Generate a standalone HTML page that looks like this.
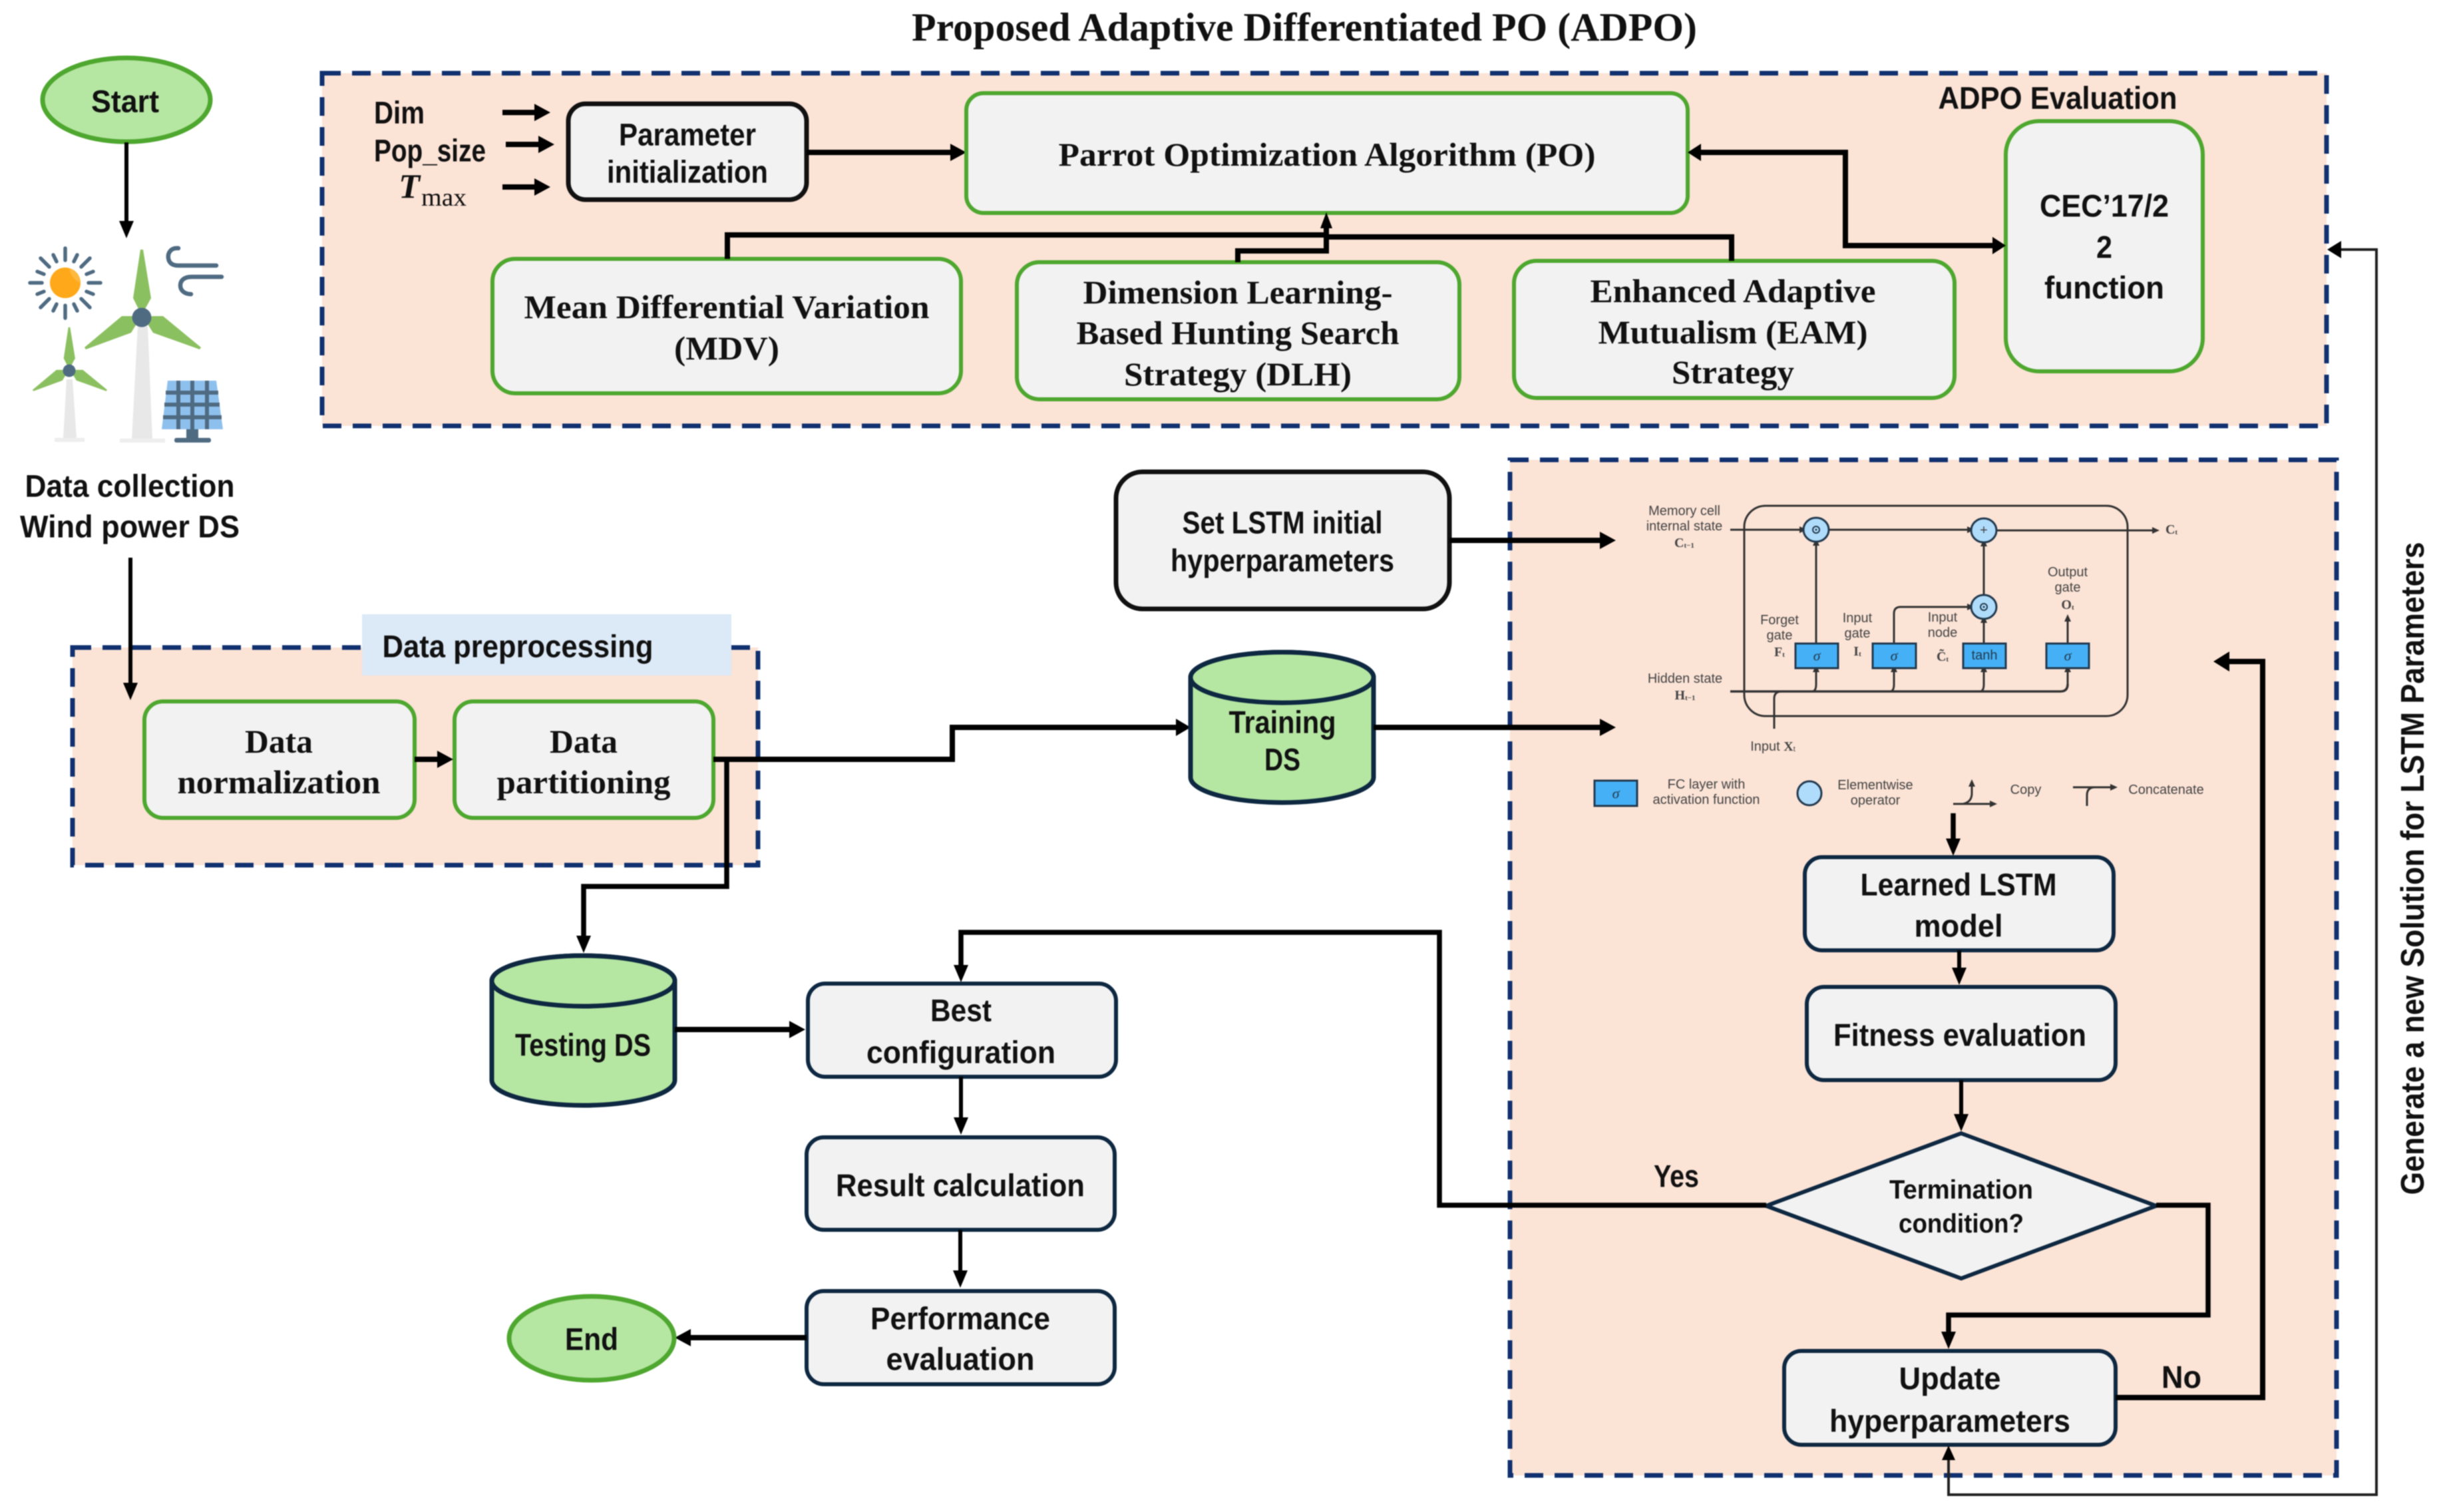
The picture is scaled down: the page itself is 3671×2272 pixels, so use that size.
<!DOCTYPE html>
<html><head><meta charset="utf-8">
<style>
html,body{margin:0;padding:0;background:#fff;width:3671px;height:2272px;overflow:hidden}
svg{display:block;filter:blur(.7px)}
text{text-anchor:middle;dominant-baseline:central;fill:#111}
.s{font:bold 47px "Liberation Sans",sans-serif}
.r{font:bold 50px "Liberation Serif",serif}
.t{font:20px "Liberation Sans",sans-serif;fill:#444}
.m{font:bold 20px "Liberation Serif",serif;fill:#444}
.dash{fill:#fbe3d6;stroke:#10306f;stroke-width:7;stroke-dasharray:28 17}
.g{fill:#f2f2f2;stroke:#4ea72e;stroke-width:6}
.n{fill:#f2f2f2;stroke:#0e2841;stroke-width:6}
.k{fill:#f2f2f2;stroke:#111;stroke-width:7}
.gf{fill:#b5e6a2;stroke:#4ea72e;stroke-width:7}
.cyl{fill:#b5e6a2;stroke:#0e2841;stroke-width:7}
.a{fill:none;stroke:#000;stroke-width:8;marker-end:url(#h)}
.a5{fill:none;stroke:#000;stroke-width:6;marker-end:url(#h2)}
.a7{fill:none;stroke:#000;stroke-width:7.5;marker-end:url(#h2)}
.l{fill:none;stroke:#333;stroke-width:3;marker-end:url(#h4)}
.ray{stroke:#4f6b82;stroke-width:5.5;stroke-linecap:round}
.lb{fill:#45b0f5;stroke:#22394d;stroke-width:3}
.lc{fill:#b0dcfb;stroke:#22394d;stroke-width:3}
</style></head><body>
<svg xmlns="http://www.w3.org/2000/svg" width="3671" height="2272" viewBox="0 0 3671 2272">
<defs>
<marker id="h" markerUnits="userSpaceOnUse" markerWidth="30" markerHeight="30" refX="6" refY="15" orient="auto"><path d="M0,2 L24,15 L0,28Z"/></marker>
<marker id="h2" markerUnits="userSpaceOnUse" markerWidth="30" markerHeight="30" refX="6" refY="13" orient="auto"><path d="M0,2 L26,13 L0,24Z"/></marker>
<marker id="h4" markerUnits="userSpaceOnUse" markerWidth="16" markerHeight="16" refX="2" refY="6" orient="auto"><path d="M0,1 L11,6 L0,11Z" fill="#333"/></marker>
</defs>

<!-- title -->
<text class="r" x="1960" y="41" textLength="1180" lengthAdjust="spacingAndGlyphs" style="font-size:60px">Proposed Adaptive Differentiated PO (ADPO)</text>

<!-- regions -->
<rect class="dash" x="484" y="110" width="3012" height="530"/>
<rect class="dash" x="109" y="973" width="1030" height="327"/>
<rect class="dash" x="2269" y="691" width="1242" height="1526"/>
<rect x="544" y="923" width="555" height="92" fill="#dce9f6"/>
<text class="s" x="778" y="971" textLength="407" lengthAdjust="spacingAndGlyphs">Data preprocessing</text>
<text class="s" x="3092" y="147" textLength="359" lengthAdjust="spacingAndGlyphs">ADPO Evaluation</text>

<!-- start -->
<ellipse class="gf" cx="190" cy="150" rx="126" ry="63"/>
<text class="s" x="188" y="152" textLength="102" lengthAdjust="spacingAndGlyphs">Start</text>
<path class="a5" d="M190,214 V338"/>

<!-- icons -->
<g>
<circle cx="98" cy="425" r="23" fill="#ffa91a"/>
<path d="M104,403 A23,23 0 0 1 120,425 A30,30 0 0 1 104,403Z" fill="#ffb93f"/>
<g class="ray">
<line x1="98" y1="373" x2="98" y2="391"/><line x1="98" y1="459" x2="98" y2="478"/>
<line x1="45" y1="425" x2="63" y2="425"/><line x1="133" y1="425" x2="151" y2="425"/>
<line x1="61" y1="388" x2="74" y2="401"/><line x1="135" y1="388" x2="122" y2="401"/>
<line x1="61" y1="462" x2="74" y2="449"/><line x1="135" y1="462" x2="122" y2="449"/>
<line x1="80" y1="383" x2="85" y2="393"/><line x1="116" y1="383" x2="111" y2="393"/>
<line x1="80" y1="467" x2="85" y2="457"/><line x1="116" y1="467" x2="111" y2="457"/>
<line x1="56" y1="408" x2="66" y2="412"/><line x1="140" y1="408" x2="130" y2="412"/>
<line x1="56" y1="442" x2="66" y2="438"/><line x1="140" y1="442" x2="130" y2="438"/>
</g>
<path d="M268,373 C255,372 252,382 253,388 C254,396 260,399 268,399 H325" fill="none" stroke="#4f6b82" stroke-width="6.5" stroke-linecap="round"/>
<path d="M333,416 H288 C276,416 271,422 271,429 C271,437 278,442 287,442" fill="none" stroke="#4f6b82" stroke-width="6.5" stroke-linecap="round"/>
<polygon points="207,490 222,490 229,660 198,660" fill="#e8e8e8"/>
<rect x="180" y="659" width="68" height="6" fill="#eeeeee"/>
<g fill="#8bc060">
<path d="M211,375 L215,375 L227,448 L216,468 L210,468 L200,448Z"/>
<path d="M183,475 L127,522 L129,525 L197,500 L205,487 L200,475Z"/>
<path d="M245,475 L302,522 L300,525 L230,500 L222,487 L228,475Z"/>
</g>
<circle cx="213" cy="477" r="14.5" fill="#4f6b82"/>
<polygon points="100,570 109,570 115,658 95,658" fill="#e8e8e8"/>
<rect x="82" y="658" width="45" height="6" fill="#eeeeee"/>
<g transform="translate(104,557) scale(.64) translate(-213,-477)" fill="#8bc060">
<path d="M211,375 L215,375 L227,448 L216,468 L210,468 L200,448Z"/>
<path d="M183,475 L127,522 L129,525 L197,500 L205,487 L200,475Z"/>
<path d="M245,475 L302,522 L300,525 L230,500 L222,487 L228,475Z"/>
</g>
<circle cx="104" cy="557" r="9.5" fill="#4f6b82"/>
<polygon points="252,572 325,572 335,645 243,645" fill="#8ec0ee"/>
<g stroke="#4f6b82" stroke-width="6" fill="none">
<line x1="249" y1="590" x2="328" y2="590"/><line x1="247" y1="608" x2="330" y2="608"/><line x1="245" y1="627" x2="333" y2="627"/>
<line x1="268" y1="572" x2="268" y2="645"/><line x1="289" y1="572" x2="289" y2="645"/><line x1="311" y1="572" x2="311" y2="645"/>
</g>
<rect x="280" y="645" width="18" height="14" fill="#4f6b82"/>
<rect x="262" y="658" width="55" height="7" rx="3" fill="#4f6b82"/>
</g>

<text class="s" x="195" y="730" textLength="315" lengthAdjust="spacingAndGlyphs">Data collection</text>
<text class="s" x="195" y="791" textLength="330" lengthAdjust="spacingAndGlyphs">Wind power DS</text>
<path class="a5" d="M196,838 V1032"/>

<!-- Parameter section -->
<text class="s" x="600" y="169" textLength="76" lengthAdjust="spacingAndGlyphs">Dim</text>
<text class="s" x="646" y="226" textLength="168" lengthAdjust="spacingAndGlyphs">Pop_size</text>
<text x="615" y="281" style="font:italic bold 52px 'Liberation Serif',serif">T</text>
<text x="667" y="297" style="font:38px 'Liberation Serif',serif" textLength="68" lengthAdjust="spacingAndGlyphs">max</text>
<path class="a" d="M755,169 H809"/>
<path class="a" d="M760,217 H815"/>
<path class="a" d="M755,281 H809"/>
<rect class="k" x="854" y="156" width="358" height="144" rx="26"/>
<text class="s" x="1033" y="202" textLength="206" lengthAdjust="spacingAndGlyphs">Parameter</text>
<text class="s" x="1033" y="258" textLength="242" lengthAdjust="spacingAndGlyphs">initialization</text>
<path class="a" d="M1212,229 H1434"/>

<rect class="g" x="1452" y="140" width="1084" height="180" rx="26"/>
<text class="r" x="1994" y="232" textLength="807" lengthAdjust="spacingAndGlyphs">Parrot Optimization Algorithm (PO)</text>

<rect class="g" x="740" y="389" width="704" height="202" rx="34"/>
<text class="r" x="1092" y="461" textLength="609" lengthAdjust="spacingAndGlyphs">Mean Differential Variation</text>
<text class="r" x="1092" y="523" textLength="158" lengthAdjust="spacingAndGlyphs">(MDV)</text>

<rect class="g" x="1528" y="394" width="665" height="206" rx="34"/>
<text class="r" x="1860" y="439" textLength="465" lengthAdjust="spacingAndGlyphs">Dimension Learning-</text>
<text class="r" x="1860" y="500" textLength="485" lengthAdjust="spacingAndGlyphs">Based Hunting Search</text>
<text class="r" x="1860" y="562" textLength="342" lengthAdjust="spacingAndGlyphs">Strategy (DLH)</text>

<rect class="g" x="2275" y="392" width="662" height="206" rx="34"/>
<text class="r" x="2604" y="437" textLength="429" lengthAdjust="spacingAndGlyphs">Enhanced Adaptive</text>
<text class="r" x="2604" y="499" textLength="405" lengthAdjust="spacingAndGlyphs">Mutualism (EAM)</text>
<text class="r" x="2604" y="559" textLength="184" lengthAdjust="spacingAndGlyphs">Strategy</text>

<rect class="g" x="3014" y="182" width="296" height="376" rx="50"/>
<text class="s" x="3162" y="309" textLength="194" lengthAdjust="spacingAndGlyphs">CEC’17/2</text>
<text class="s" x="3162" y="371" textLength="24" lengthAdjust="spacingAndGlyphs">2</text>
<text class="s" x="3162" y="432" textLength="180" lengthAdjust="spacingAndGlyphs">function</text>

<path d="M1093,389 V353 H1993 M2602,392 V356 H1993 M1860,394 V377 H1993 V340" fill="none" stroke="#000" stroke-width="8"/>
<path d="M1984,343 L1993,319 L2002,343Z"/>
<path d="M2554,229 H2773 V369 H2996" fill="none" stroke="#000" stroke-width="8"/>
<path d="M2556,216 L2536,229 L2556,242Z"/>
<path d="M2994,356 L3014,369 L2994,382Z"/>

<!-- preprocessing nodes -->
<rect class="g" x="217" y="1054" width="406" height="175" rx="28"/>
<text class="r" x="419" y="1114" textLength="102" lengthAdjust="spacingAndGlyphs">Data</text>
<text class="r" x="419" y="1175" textLength="305" lengthAdjust="spacingAndGlyphs">normalization</text>
<rect class="g" x="683" y="1054" width="389" height="175" rx="28"/>
<text class="r" x="877" y="1114" textLength="102" lengthAdjust="spacingAndGlyphs">Data</text>
<text class="r" x="877" y="1175" textLength="261" lengthAdjust="spacingAndGlyphs">partitioning</text>
<path class="a" d="M623,1141 H663"/>

<path d="M1072,1141 H1431 V1093 H1771" fill="none" stroke="#000" stroke-width="8"/>
<path d="M1767,1080 L1789,1093 L1767,1106Z"/>
<path class="a7" d="M1092,1141 V1332 H877 V1412"/>

<!-- cylinders -->
<path class="cyl" d="M1789,1018 V1168 A137.5,38 0 0 0 2064,1168 V1018 A137.5,38 0 0 0 1789,1018Z"/>
<ellipse class="cyl" cx="1926.5" cy="1018" rx="137.5" ry="38"/>
<text class="s" x="1927" y="1085" textLength="161" lengthAdjust="spacingAndGlyphs">Training</text>
<text class="s" x="1927" y="1141" textLength="54" lengthAdjust="spacingAndGlyphs">DS</text>
<path class="a" d="M2064,1093 H2410"/>

<path class="cyl" d="M739,1474 V1623 A137.5,38 0 0 0 1014,1623 V1474 A137.5,38 0 0 0 739,1474Z"/>
<ellipse class="cyl" cx="876.5" cy="1474" rx="137.5" ry="38"/>
<text class="s" x="876" y="1570" textLength="204" lengthAdjust="spacingAndGlyphs">Testing DS</text>
<path class="a" d="M1014,1547 H1192"/>

<!-- left column -->
<rect class="n" x="1214" y="1478" width="463" height="140" rx="26"/>
<text class="s" x="1444" y="1518" textLength="92" lengthAdjust="spacingAndGlyphs">Best</text>
<text class="s" x="1444" y="1581" textLength="284" lengthAdjust="spacingAndGlyphs">configuration</text>
<path class="a5" d="M1444,1618 V1685"/>
<rect class="n" x="1212" y="1709" width="463" height="139" rx="26"/>
<text class="s" x="1443" y="1781" textLength="374" lengthAdjust="spacingAndGlyphs">Result calculation</text>
<path class="a5" d="M1443,1848 V1915"/>
<rect class="n" x="1212" y="1940" width="463" height="140" rx="26"/>
<text class="s" x="1443" y="1981" textLength="270" lengthAdjust="spacingAndGlyphs">Performance</text>
<text class="s" x="1443" y="2042" textLength="223" lengthAdjust="spacingAndGlyphs">evaluation</text>
<path class="a" d="M1212,2010 H1032"/>
<ellipse class="gf" cx="889" cy="2011" rx="124" ry="63"/>
<text class="s" x="889" y="2012" textLength="80" lengthAdjust="spacingAndGlyphs">End</text>

<!-- Set LSTM -->
<rect class="k" x="1677" y="709" width="501" height="206" rx="40"/>
<text class="s" x="1927" y="785" textLength="301" lengthAdjust="spacingAndGlyphs">Set LSTM initial</text>
<text class="s" x="1927" y="842" textLength="336" lengthAdjust="spacingAndGlyphs">hyperparameters</text>
<path class="a" d="M2178,812 H2410"/>

<!-- LSTM diagram -->
<rect x="2621" y="760" width="576" height="316" rx="32" fill="none" stroke="#333" stroke-width="3"/>
<path class="l" d="M2600,796 H2706"/>
<path class="l" d="M2748,796 H2958"/>
<path class="l" d="M3000,797 H3236"/>
<path class="l" d="M2729,967 V818"/>
<path class="l" d="M2981,893 V819"/>
<path class="l" d="M2981,967 V934"/>
<path class="l" d="M2846,967 V922 Q2846,912 2856,912 H2958"/>
<path class="l" d="M3107,967 V932"/>
<path d="M2600,1039 H3096 Q3107,1039 3107,1028" fill="none" stroke="#333" stroke-width="3.5"/>
<path class="l" d="M3107,1030 V1008"/>
<path class="l" d="M2723,1039 Q2729,1039 2729,1028 V1008"/>
<path class="l" d="M2840,1039 Q2846,1039 2846,1028 V1008"/>
<path class="l" d="M2975,1039 Q2981,1039 2981,1028 V1008"/>
<path d="M2666,1095 V1050 Q2666,1039 2677,1039" fill="none" stroke="#333" stroke-width="3"/>
<ellipse class="lc" cx="2729" cy="796" rx="19" ry="18"/><circle cx="2729" cy="796" r="5" fill="none" stroke="#22394d" stroke-width="2"/><circle cx="2729" cy="796" r="1.5" fill="#22394d"/>
<ellipse class="lc" cx="2981" cy="797" rx="19" ry="18"/><text x="2981" y="797" class="t">+</text>
<ellipse class="lc" cx="2981" cy="912" rx="19" ry="18"/><circle cx="2981" cy="912" r="5" fill="none" stroke="#22394d" stroke-width="2"/><circle cx="2981" cy="912" r="1.5" fill="#22394d"/>
<rect class="lb" x="2698" y="967" width="64" height="37"/><text x="2730" y="985" style="font:italic 22px 'Liberation Serif',serif;fill:#22394d">σ</text>
<rect class="lb" x="2814" y="967" width="65" height="37"/><text x="2846" y="985" style="font:italic 22px 'Liberation Serif',serif;fill:#22394d">σ</text>
<rect class="lb" x="2950" y="967" width="64" height="37"/><text x="2982" y="985" style="font:20px 'Liberation Sans',sans-serif;fill:#22394d">tanh</text>
<rect class="lb" x="3075" y="967" width="64" height="37"/><text x="3107" y="985" style="font:italic 22px 'Liberation Serif',serif;fill:#22394d">σ</text>

<text class="t" x="2531" y="768">Memory cell</text>
<text class="t" x="2531" y="791">internal state</text>
<text class="m" x="2531" y="816">C<tspan font-size="11" dy="4">t−1</tspan></text>
<text class="m" x="3263" y="796">C<tspan font-size="11" dy="4">t</tspan></text>
<text class="t" x="2674" y="932">Forget</text><text class="t" x="2674" y="955">gate</text><text class="m" x="2674" y="980">F<tspan font-size="11" dy="4">t</tspan></text>
<text class="t" x="2791" y="929">Input</text><text class="t" x="2791" y="952">gate</text><text class="m" x="2791" y="979">I<tspan font-size="11" dy="4">t</tspan></text>
<text class="t" x="2919" y="928">Input</text><text class="t" x="2919" y="951">node</text><text class="m" x="2919" y="987">C̃<tspan font-size="11" dy="4">t</tspan></text>
<text class="t" x="3107" y="860">Output</text><text class="t" x="3107" y="883">gate</text><text class="m" x="3107" y="909">O<tspan font-size="11" dy="4">t</tspan></text>
<text class="t" x="2532" y="1020">Hidden state</text>
<text class="m" x="2532" y="1045">H<tspan font-size="11" dy="4">t−1</tspan></text>
<text class="t" x="2664" y="1122">Input <tspan style="font:bold 20px 'Liberation Serif',serif">X</tspan><tspan font-size="11" dy="4">t</tspan></text>

<rect class="lb" x="2396" y="1173" width="64" height="38"/><text x="2428" y="1192" style="font:italic 22px 'Liberation Serif',serif;fill:#22394d">σ</text>
<text class="t" x="2564" y="1179">FC layer with</text>
<text class="t" x="2564" y="1202" textLength="161" lengthAdjust="spacingAndGlyphs">activation function</text>
<ellipse class="lc" cx="2719" cy="1192" rx="18" ry="18"/>
<text class="t" x="2818" y="1180">Elementwise</text><text class="t" x="2818" y="1203">operator</text>
<path class="l" d="M2935,1208 H2992"/>
<path class="l" d="M2950,1208 Q2963,1205 2963,1192 V1180"/>
<text class="t" x="3044" y="1187">Copy</text>
<path class="l" d="M3115,1183 H3173"/>
<path d="M3136,1211 V1195 Q3136,1183 3148,1183" fill="none" stroke="#333" stroke-width="3"/>
<text class="t" x="3255" y="1187">Concatenate</text>

<!-- right column -->
<path class="a7" d="M2935,1222 V1266"/>
<rect class="n" x="2712" y="1288" width="464" height="140" rx="26"/>
<text class="s" x="2943" y="1329" textLength="295" lengthAdjust="spacingAndGlyphs">Learned LSTM</text>
<text class="s" x="2943" y="1391" textLength="133" lengthAdjust="spacingAndGlyphs">model</text>
<path class="a5" d="M2944,1428 V1460"/>
<rect class="n" x="2715" y="1483" width="464" height="140" rx="26"/>
<text class="s" x="2945" y="1555" textLength="380" lengthAdjust="spacingAndGlyphs">Fitness evaluation</text>
<path class="a5" d="M2947,1623 V1680"/>
<polygon points="2947,1703 3240,1812 2947,1921 2654,1812" class="n"/>
<text class="s" x="2947" y="1788" textLength="216" lengthAdjust="spacingAndGlyphs" style="font-size:40px">Termination</text>
<text class="s" x="2947" y="1839" textLength="188" lengthAdjust="spacingAndGlyphs" style="font-size:40px">condition?</text>

<path class="a7" d="M2654,1811 H2163 V1401 H1444 V1456"/>
<text class="s" x="2519" y="1767" textLength="68" lengthAdjust="spacingAndGlyphs">Yes</text>
<path class="a7" d="M3240,1811 H3318 V1976 H2928 V2007"/>
<rect class="n" x="2681" y="2030" width="498" height="141" rx="26"/>
<text class="s" x="2930" y="2071" textLength="153" lengthAdjust="spacingAndGlyphs">Update</text>
<text class="s" x="2930" y="2135" textLength="362" lengthAdjust="spacingAndGlyphs">hyperparameters</text>
<text class="s" x="3278" y="2069" textLength="60" lengthAdjust="spacingAndGlyphs">No</text>
<path d="M3179,2100 H3400 V994 H3345" fill="none" stroke="#000" stroke-width="8"/>
<path d="M3350,979 L3326,994 L3350,1009Z"/>

<!-- outer loop -->
<path d="M2928,2190 V2246 H3571 V375 H3515" fill="none" stroke="#222" stroke-width="4"/>
<path d="M2918,2194 L2928,2172 L2938,2194Z"/>
<path d="M3518,362 L3497,375 L3518,388Z"/>
<text class="s" transform="translate(3626,1305) rotate(-90)" textLength="981" lengthAdjust="spacingAndGlyphs" style="font-size:49px">Generate a new Solution for LSTM Parameters</text>
</svg>
</body></html>
